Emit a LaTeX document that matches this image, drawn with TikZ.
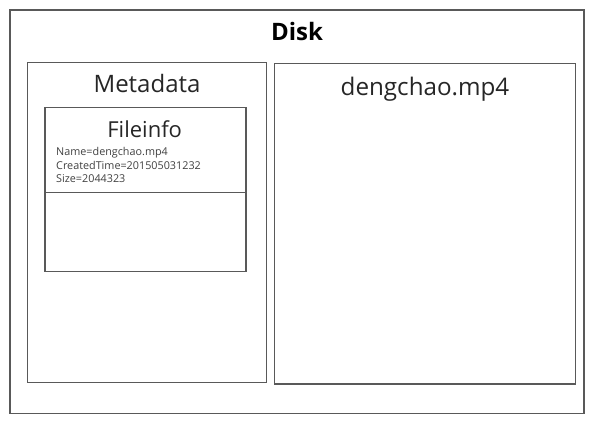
\documentclass[tikz,border=0pt]{standalone}
\usepackage{fontspec}
\setmainfont{Open Sans}
\usetikzlibrary{positioning}

\begin{document}
\begin{tikzpicture}[x=1pt, y=-1pt, box/.style={draw=black!65, line width=1.2pt, inner sep=0pt}, info/.style={font=\fontsize{10.8}{13.5}\selectfont, anchor=base west, inner sep=0pt, text=black!75}]
\useasboundingbox (0,0) rectangle (594,421);
\node[box, minimum width=574pt, minimum height=403.5pt](disk) at (297,211.75){};
\node[box, minimum width=239.4pt, minimum height=320.4pt](meta) at (147,222.5){};
\node[box, minimum width=201pt, minimum height=164pt](finfo) at (145.5,189.7){};
\node[box, minimum width=301pt, minimum height=320.7pt](mp4) at (424.8,223.65){};
\draw[box] (finfo.west |- 0,192.3) -- (finfo.east |- 0,192.3);
\node[anchor=base, inner sep=0pt, font=\fontsize{24}{28}\selectfont\bfseries](disklabel) at (297,40.7){Disk};
\node[anchor=base, inner sep=0pt, font=\fontsize{24}{28}\selectfont, text=black!85](metalabel) at (147,92.7){Metadata};
\node[anchor=base, inner sep=0pt, font=\fontsize{24.2}{28}\selectfont, text=black!85](mp4label) at (425,95){dengchao.mp4};
\node[anchor=base, inner sep=0pt, font=\fontsize{22}{26}\selectfont, text=black!85](finfolabel) at (144.7,137.3){Fileinfo};
\node[info](name) at (56,155.7){Name=dengchao.mp4};
\node[info](ctime) at (56,169.3){CreatedTime=201505031232};
\node[info](size) at (56,182.7){Size=2044323};
\end{tikzpicture}
\end{document}
